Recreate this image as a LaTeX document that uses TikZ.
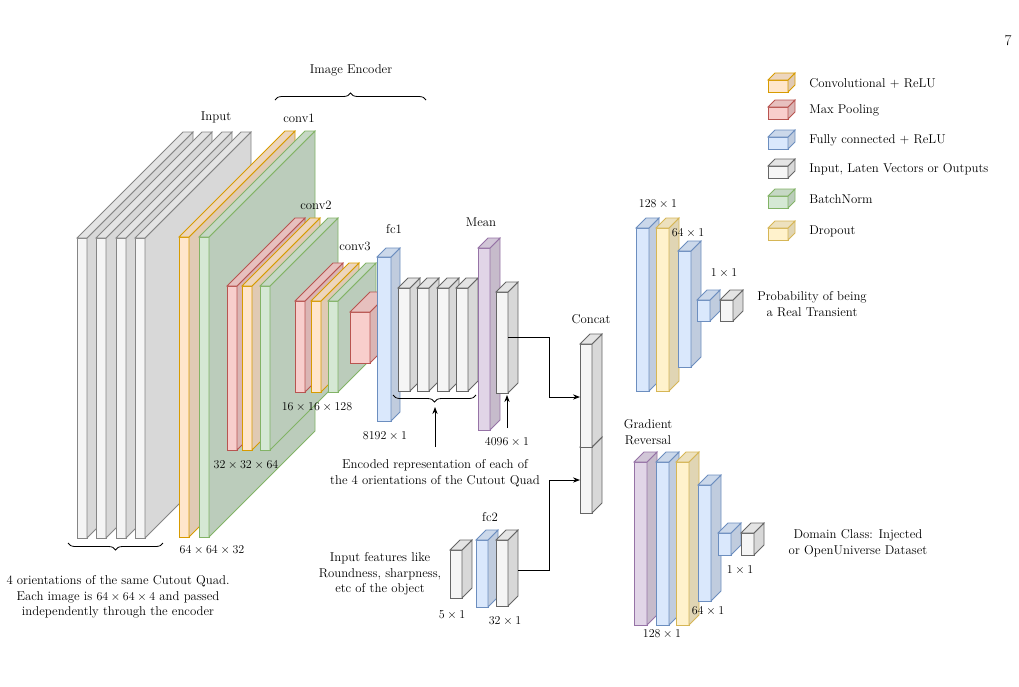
\documentclass[tikz,border=0pt]{standalone}
\usetikzlibrary{decorations.pathreplacing,arrows.meta}
\definecolor{grF}{HTML}{F5F5F5}\definecolor{grD}{HTML}{666666}
\definecolor{orF}{HTML}{FFE6CC}\definecolor{orD}{HTML}{D79B00}
\definecolor{rdF}{HTML}{F8CECC}\definecolor{rdD}{HTML}{B85450}
\definecolor{blF}{HTML}{DAE8FC}\definecolor{blD}{HTML}{6C8EBF}
\definecolor{gnF}{HTML}{D5E8D4}\definecolor{gnD}{HTML}{82B366}
\definecolor{yeF}{HTML}{FFF2CC}\definecolor{yeD}{HTML}{D6B656}
\definecolor{puF}{HTML}{E1D5E7}\definecolor{puD}{HTML}{9673A6}
\newcommand\cub[7]{%
 \draw[draw=#7,fill=#6] (#1,#2) rectangle ++(#3,#4);
 \draw[draw=#7,fill=#6!88!black] (#1+#3,#2) -- ++(#5,-#5) -- ++(0,#4) -- ++(-#5,#5) -- cycle;
 \draw[draw=#7,fill=#6!93!black] (#1,#2) -- ++(#5,-#5) -- ++(#3,0) -- ++(-#5,#5) -- cycle;}
\begin{document}
\begin{tikzpicture}[x=1pt,y=-1pt,line width=0.8pt,
 lbl/.style={font=\fontsize{12.8}{15.5}\selectfont,align=center,inner sep=1pt},
 arr/.style={-{Stealth[length=7pt]},line width=0.8pt,black}]
\useasboundingbox (0,0) rectangle (1019,686);
\node[lbl] (pg) at (1008,41) {\fontsize{15}{17}\selectfont 7};
% input slabs
\foreach \x in {77,96,116,135} {\cub{\x}{238}{10}{300}{106}{grF}{grD!80}}
% conv1
\cub{179}{237}{10}{300}{106}{orF}{orD}
\cub{199}{237}{10}{300}{106}{gnF}{gnD}
% conv2
\cub{227}{286}{10}{164}{68}{rdF}{rdD}
\cub{242}{286}{10}{164}{68}{orF}{orD}
\cub{260}{286}{10}{164}{68}{gnF}{gnD}
% conv3
\cub{295}{301}{10}{91}{38}{rdF}{rdD}
\cub{311}{301}{10}{91}{38}{orF}{orD}
\cub{328}{301}{10}{91}{38}{gnF}{gnD}
\cub{350}{312}{20}{51}{20}{rdF}{rdD}
% fc1
\cub{377}{257}{14}{164}{9}{blF}{blD}
\foreach \x in {398,417,437,456} {\cub{\x}{288}{12}{103}{10}{grF}{grD}}
\cub{478}{248}{12}{182}{10}{puF}{puD}
\cub{496}{292}{12}{101}{10}{grF}{grD}
\coordinate (o1) at (508,337);
% concat
\cub{580}{447}{12}{66}{10}{grF}{grD}
\cub{580}{344}{12}{103}{10}{grF}{grD}
\coordinate (c1) at (580,397);
\coordinate (c2) at (580,480);
% fc2
\cub{450}{550}{12}{48}{10}{grF}{grD}
\cub{476}{540}{12}{67}{10}{blF}{blD}
\cub{496}{540}{12}{66}{10}{grF}{grD}
\coordinate (o2) at (518,570);
% top head
\cub{636}{228}{13}{163}{10}{blF}{blD}
\cub{656}{228}{13}{163}{10}{yeF}{yeD}
\cub{678}{251}{13}{116}{10}{blF}{blD}
\cub{697}{300}{13}{21}{10}{blF}{blD}
\cub{720}{300}{13}{21}{10}{grF}{grD}
% bottom head
\cub{634}{462}{13}{163}{10}{puF}{puD}
\cub{656}{462}{13}{163}{10}{blF}{blD}
\cub{676}{462}{13}{163}{10}{yeF}{yeD}
\cub{698}{485}{13}{116}{10}{blF}{blD}
\cub{718}{533}{13}{22}{10}{blF}{blD}
\cub{741}{533}{13}{22}{10}{grF}{grD}
% connectors
\draw[arr] (o1) -- (549,337) |- (c1);
\draw[arr] (o2) -- (549,570) |- (c2);
\coordinate (b1) at (435,447); \coordinate (b1t) at (435,407);
\coordinate (b2) at (507,428); \coordinate (b2t) at (507,395);
\draw[arr] (b1) -- (b1t);
\draw[arr] (b2) -- (b2t);
% braces
\draw[decorate,decoration={brace,amplitude=7pt}] (476,395) -- (393,395);
\draw[decorate,decoration={brace,amplitude=7pt}] (275,100) -- (426,100);
\draw[decorate,decoration={brace,amplitude=7pt}] (163,543) -- (68,543);
% legend
\foreach \y/\c/\t in {80/or/Convolutional + ReLU,107/rd/Max Pooling,137/bl/Fully connected + ReLU,166/gr/{Input, Laten Vectors or Outputs},196/gn/BatchNorm,228/ye/Dropout}{
 \cub{768}{\y}{20}{12}{7}{\c F}{\c D}
 \node[lbl,anchor=west] at (808,\y+3) {\t};}
% labels
\node[lbl] at (351,70) {Image Encoder};
\node[lbl] at (216,117) {Input};
\node[lbl] at (299,118) {conv1};
\node[lbl] at (316,205) {conv2};
\node[lbl] at (355,246) {conv3};
\node[lbl] at (394,229) {fc1};
\node[lbl] at (481,222) {Mean};
\node[lbl] at (591,319) {Concat};
\node[lbl] at (490,517) {fc2};
\node[lbl] at (317,407) {$16\times16\times128$};
\node[lbl] at (246,465) {$32\times32\times64$};
\node[lbl] at (212,550) {$64\times64\times32$};
\node[lbl] at (385,436) {$8192\times1$};
\node[lbl] at (507,442) {$4096\times1$};
\node[lbl] at (452,615) {$5\times1$};
\node[lbl] at (505,621) {$32\times1$};
\node[lbl] at (435,473) {Encoded representation of each of\\the 4 orientations of the Cutout Quad};
\node[lbl] at (380,574) {Input features like\\Roundness, sharpness,\\etc of the object};
\node[lbl] at (118,597) {4 orientations of the same Cutout Quad.\\Each image is $64\times64\times4$ and passed\\independently through the encoder};
\node[lbl] at (658,204) {$128\times1$};
\node[lbl] at (688,233) {$64\times1$};
\node[lbl] at (724,273) {$1\times1$};
\node[lbl] at (812,304) {Probability of being\\a Real Transient};
\node[lbl] at (648,432) {Gradient\\Reversal};
\node[lbl] at (858,543) {Domain Class: Injected\\or OpenUniverse Dataset};
\node[lbl] at (740,570) {$1\times1$};
\node[lbl] at (708,611) {$64\times1$};
\node[lbl] at (662,634) {$128\times1$};
\end{tikzpicture}
\end{document}
